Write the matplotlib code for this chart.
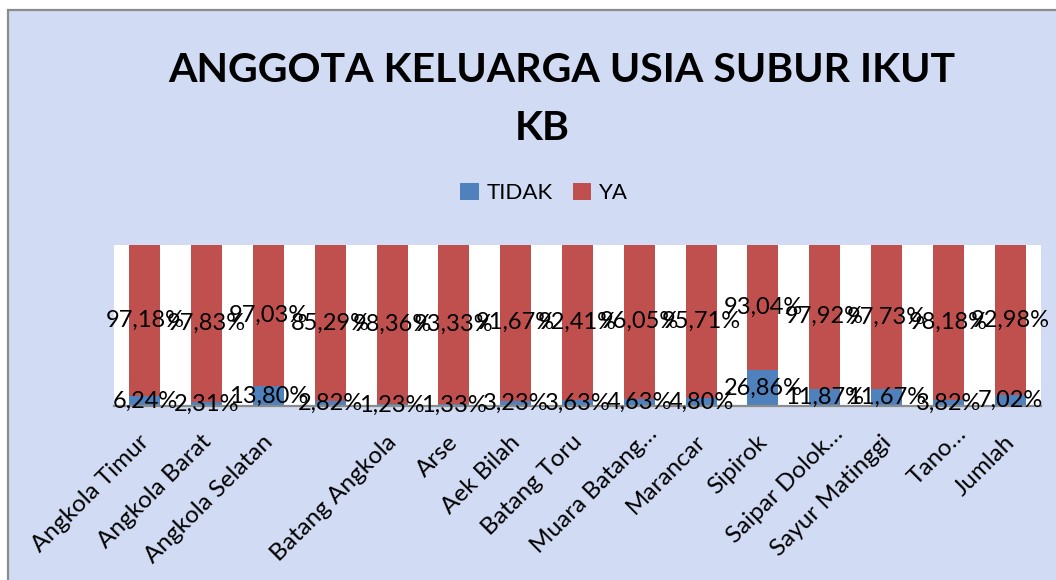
import matplotlib
matplotlib.use("Agg")
import matplotlib.pyplot as plt
import matplotlib.transforms as mtransforms
from matplotlib.patches import Rectangle
import numpy as np

categories = ["Angkola Timur", "Angkola Barat", "Angkola Selatan", "", "Batang Angkola",
              "Arse", "Aek Bilah", "Batang Toru", "Muara Batang…", "Marancar",
              "Sipirok", "Saipar Dolok…", "Sayur Matinggi", "Tano…", "Jumlah"]
tidak = [6.24, 2.31, 13.80, 2.82, 1.23, 1.33, 3.23, 3.63, 4.63, 4.80,
         26.86, 11.87, 11.67, 3.82, 7.02]
ya = [97.18, 97.83, 97.03, 85.29, 98.36, 93.33, 91.67, 92.41, 96.05, 95.71,
      93.04, 97.92, 97.73, 98.18, 92.98]
series_names = ["TIDAK", "YA"]
title_line1 = "ANGGOTA KELUARGA USIA SUBUR IKUT"
title_line2 = "KB"

FONT = ["Lato", "DejaVu Sans"]
plt.rcParams['font.family'] = FONT

W, H = 1056, 580
fig = plt.figure(figsize=(W / 100, H / 100), dpi=100, facecolor="white")

# chart area background with border
bg = Rectangle((8 / W, -0.05), 1.2, 1 - 10 / H + 0.05, transform=fig.transFigure,
               facecolor="#D1DCF4", edgecolor="#8C8C8C", linewidth=1.6, zorder=-10)
fig.patches.append(bg)

ax = fig.add_axes([114 / W, 1 - 406 / H, (1041 - 114) / W, (406 - 245) / H])
ax.set_facecolor("white")

t = np.array(tidak)
y = np.array(ya)
tot = t + y
tp = t / tot * 100
yp = y / tot * 100
x = np.arange(len(categories))

blue = "#4F81BD"
red = "#C0504D"
ax.bar(x, tp, width=0.5, color=blue, label=series_names[0], zorder=2)
ax.bar(x, yp, width=0.5, bottom=tp, color=red, label=series_names[1], zorder=2)

ax.set_xlim(-0.5, len(categories) - 0.5)
ax.set_ylim(0, 100)
for s in ["top", "right", "left"]:
    ax.spines[s].set_visible(False)
ax.spines["bottom"].set_color("#8C8C8C")
ax.spines["bottom"].set_linewidth(1.6)
ax.spines["bottom"].set_zorder(3)
ax.set_yticks([])

def fmt(v):
    return f"{v:.2f}%".replace(".", ",")

for i in range(len(categories)):
    ax.text(x[i], tp[i] / 2, fmt(tidak[i]), ha="center", va="center",
            fontsize=17, color="black", zorder=5, clip_on=False)
    ax.text(x[i], tp[i] + yp[i] / 2, fmt(ya[i]), ha="center", va="center",
            fontsize=17, color="black", zorder=5, clip_on=False)

ax.set_xticks(x)
ax.set_xticklabels(categories, rotation=45, ha="right", va="center",
                   rotation_mode="anchor", fontsize=17.5)
ax.tick_params(axis="x", length=0, pad=25)
for lbl in ax.get_xticklabels():
    dx, dy = 1, 2
    if lbl.get_text().endswith("…"):
        dx, dy = 15, 10
    lbl.set_transform(lbl.get_transform() +
                      mtransforms.ScaledTranslation(dx / 100, dy / 100, fig.dpi_scale_trans))

fig.text(562 / W, 1 - 71 / H, title_line1, ha="center", va="center",
         fontsize=29.5, fontweight="bold", color="black")
fig.text(542 / W, 1 - 128 / H, title_line2, ha="center", va="center",
         fontsize=29.5, fontweight="bold", color="black")

handles, labels = ax.get_legend_handles_labels()
fig.legend(handles, labels, loc="center", bbox_to_anchor=(544 / W, 1 - 193 / H),
           ncol=2, frameon=False, fontsize=16, handlelength=0.85, handleheight=0.85,
           handletextpad=0.35, columnspacing=0.9, borderaxespad=0)

fig.savefig("out.png", dpi=100, facecolor="white")
